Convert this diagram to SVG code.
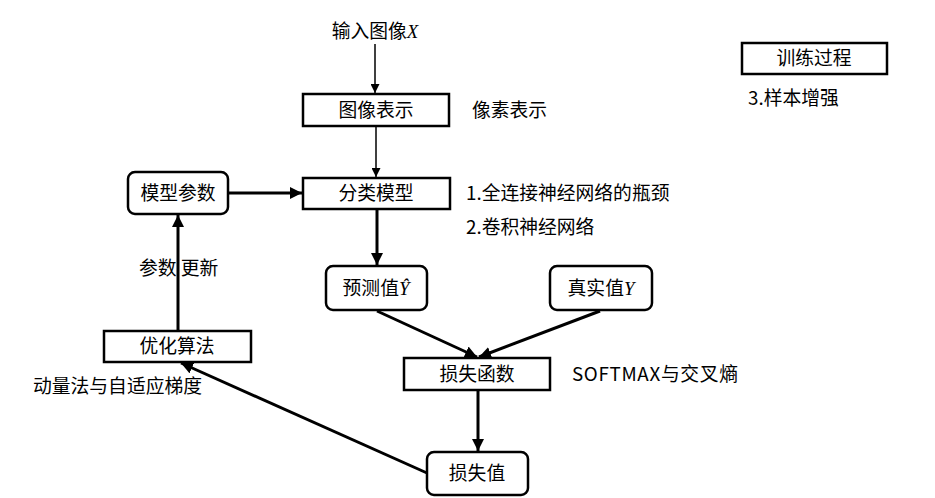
<svg xmlns="http://www.w3.org/2000/svg" width="935" height="498" viewBox="0 0 935 498">
<defs>
<marker id="ah" viewBox="0 0 10 10" refX="10" refY="5" markerWidth="4" markerHeight="4" orient="auto" markerUnits="strokeWidth">
<path d="M0,0 L10,5 L0,10 z" fill="#000"/>
</marker>
<marker id="ahs" viewBox="0 0 10 10" refX="10" refY="5" markerWidth="6" markerHeight="6" orient="auto" markerUnits="strokeWidth">
<path d="M0,0 L10,5 L0,10 z" fill="#000"/>
</marker>
<style>
.box{fill:#fff;stroke:#000;stroke-width:2.5}
.t{font-family:"Noto Sans CJK SC","Noto Sans",sans-serif;font-size:18.8px;fill:#000}
.c{text-anchor:middle}
.m{font-family:"Liberation Serif",serif;font-style:italic}
.thin{stroke:#000;stroke-width:1.5;fill:none}
.thick{stroke:#000;stroke-width:3;fill:none}
</style>
</defs>
<rect width="935" height="498" fill="#fff"/>
<g id="connectors">
<line class="thin" x1="375" y1="44" x2="375" y2="93" marker-end="url(#ahs)"/>
<line class="thin" x1="376" y1="127" x2="376" y2="177" marker-end="url(#ahs)"/>
<line class="thick" x1="229" y1="193" x2="302" y2="193" marker-end="url(#ah)"/>
<line class="thick" x1="377" y1="210" x2="377" y2="265" marker-end="url(#ah)"/>
<line class="thick" x1="377" y1="311" x2="477" y2="357" marker-end="url(#ah)"/>
<line class="thick" x1="600" y1="311" x2="479" y2="357" marker-end="url(#ah)"/>
<line class="thick" x1="478" y1="391" x2="478" y2="451" marker-end="url(#ah)"/>
<line class="thick" x1="427" y1="473" x2="181" y2="363" marker-end="url(#ah)"/>
<line class="thick" x1="178" y1="330" x2="178" y2="215" marker-end="url(#ah)"/>
</g>
<g id="input"><text class="t c" x="375" y="38">输入图像<tspan class="m">X</tspan></text></g>
<g id="n_img"><rect class="box" x="303" y="94" width="146" height="32"/><text class="t c" x="376" y="117">图像表示</text></g>
<text class="t" x="472" y="117">像素表示</text>
<g id="n_cls"><rect class="box" x="303" y="178" width="147" height="31"/><text class="t c" x="376" y="200">分类模型</text></g>
<text class="t" x="466" y="200">1.全连接神经网络的瓶颈</text>
<text class="t" x="466" y="234">2.卷积神经网络</text>
<g id="n_param"><rect class="box" x="128" y="172" width="100" height="42" rx="7"/><text class="t c" x="178" y="200">模型参数</text></g>
<g id="n_pred"><rect class="box" x="326" y="266" width="101" height="44" rx="7"/><text class="t c" x="376" y="295">预测值<tspan class="m">Ŷ</tspan></text></g>
<g id="n_true"><rect class="box" x="550" y="266" width="102" height="44" rx="7"/><text class="t c" x="601" y="295">真实值<tspan class="m">Y</tspan></text></g>
<g id="n_loss"><rect class="box" x="404" y="358" width="146" height="32"/><text class="t c" x="477" y="381">损失函数</text></g>
<text class="t" x="572" y="381" textLength="166">SOFTMAX与交叉熵</text>
<g id="n_lossval"><rect class="box" x="427" y="452" width="101" height="43" rx="7"/><text class="t c" x="477" y="480">损失值</text></g>
<g id="n_opt"><rect class="box" x="104" y="331" width="147" height="31"/><text class="t c" x="177" y="353">优化算法</text></g>
<text class="t" x="33" y="393">动量法与自适应梯度</text>
<text class="t" x="139" y="275">参数 更新</text>
<g id="n_train"><rect class="box" x="742" y="43" width="145" height="31"/><text class="t c" x="814" y="65">训练过程</text></g>
<text class="t" x="748" y="105">3.样本增强</text>
</svg>
